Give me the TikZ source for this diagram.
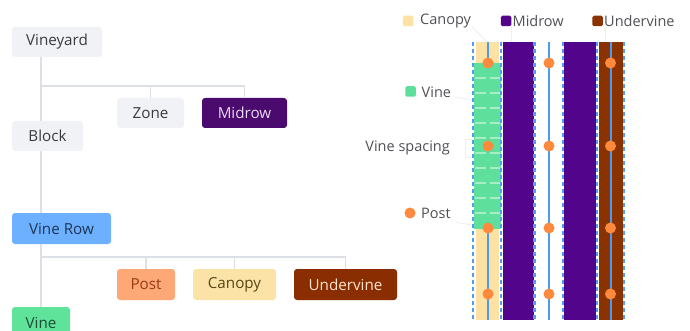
\documentclass[tikz,border=0pt]{standalone}
\usepackage{fontspec}
\setmainfont{Open Sans}
\definecolor{gbg}{HTML}{F1F2F6}
\definecolor{gtx}{HTML}{3A3B40}
\definecolor{conn}{HTML}{DCDFE6}
\definecolor{midbg}{HTML}{4A0A6E}
\definecolor{midtx}{HTML}{E8DAF2}
\definecolor{rowbg}{HTML}{6CB0FF}
\definecolor{rowtx}{HTML}{1E3656}
\definecolor{postbg}{HTML}{FFA877}
\definecolor{posttx}{HTML}{9A3C12}
\definecolor{canbg}{HTML}{FBE3A8}
\definecolor{cantx}{HTML}{5A4514}
\definecolor{undbg}{HTML}{8A2E02}
\definecolor{undtx}{HTML}{FFE3CC}
\definecolor{vinebg}{HTML}{5FE39B}
\definecolor{vinetx}{HTML}{1E4D33}
\definecolor{canopyc}{HTML}{FDE2A3}
\definecolor{midrowc}{HTML}{52048A}
\definecolor{underc}{HTML}{8B3300}
\definecolor{vinec}{HTML}{5EDF9C}
\definecolor{vinedash}{HTML}{A9EDC4}
\definecolor{bluec}{HTML}{4D9BF2}
\definecolor{bluedash}{HTML}{4F9DF5}
\definecolor{postc}{HTML}{FF8A3D}
\definecolor{legtx}{HTML}{505156}
\definecolor{leader}{HTML}{EEEFF1}
\begin{document}
\begin{tikzpicture}[x=1pt,y=-1pt,
  box/.style={rounded corners=3pt, minimum height=30pt, inner sep=0pt, font=\fontsize{15.2}{17}\selectfont},
  graybox/.style={box, fill=gbg, text=gtx},
  cn/.style={draw=conn, line width=1.6pt},
  leg/.style={font=\fontsize{14.5}{16}\selectfont, text=legtx, inner sep=0pt},
  bdash/.style={draw=bluedash, line width=2.4pt, dash pattern=on 4pt off 3pt},
  bline/.style={draw=bluec, line width=2pt},
  postdot/.style={circle, fill=postc, minimum size=11pt, inner sep=0pt},
  lead/.style={draw=leader, line width=0.8pt}
]
\useasboundingbox (0,0) rectangle (690,331);
\fill[white] (0,0) rectangle (690,331);

% ---- tree ----
\coordinate (tx) at (41,0);
\coordinate (b1) at (0,86);
\coordinate (b2) at (0,257);

\node[graybox, minimum width=90pt] (vineyard) at (57,42) {Vineyard};
\node[graybox, minimum width=67pt] (zone) at (150.5,113) {Zone};
\node[box, fill=midbg, text=midtx, minimum width=85pt] (midrow) at (244.5,113) {Midrow};
\node[graybox, minimum width=71pt] (block) at (47.5,136) {Block};
\node[box, fill=rowbg, text=rowtx, minimum width=99pt, minimum height=31pt] (vinerow) at (61.5,228.5) {Vine Row};
\node[box, fill=postbg, text=posttx, minimum width=58pt, minimum height=31pt] (post) at (146,284.5) {Post};
\node[box, fill=canbg, text=cantx, minimum width=83pt, minimum height=31pt] (canopy) at (234.5,284.5) {Canopy};
\node[box, fill=undbg, text=undtx, minimum width=103pt, minimum height=31pt] (undervine) at (345.5,284.5) {Undervine};
\node[box, fill=vinebg, text=vinetx, minimum width=58pt, minimum height=31pt] (vine) at (41,322.5) {Vine};

\draw[cn] (vineyard.south -| tx) -- (block.north -| tx);
\draw[cn] (tx |- b1) -- (midrow.north |- b1) -- (midrow.north);
\draw[cn] (zone.north |- b1) -- (zone.north);
\draw[cn] (block.south -| tx) -- (vinerow.north -| tx);
\draw[cn] (vinerow.south -| tx) -- (vine.north -| tx);
\draw[cn] (tx |- b2) -- (undervine.north |- b2) -- (undervine.north);
\draw[cn] (post.north |- b2) -- (post.north);
\draw[cn] (canopy.north |- b2) -- (canopy.north);

% ---- right panel ----
% leaders
\draw[lead] (472,27) -- (487,42);
\draw[lead] (511,27) -- (511,42);
\draw[lead] (605,27) -- (605,42);
\draw[lead] (455,97) -- (473,100);
\draw[lead] (455,222) -- (482,227);
\draw[draw=leader, line width=0.6pt] (472,139) -- (465,139) -- (465,157) -- (472,157);

% canopy strip
\fill[canopyc] (476,42) rectangle (499,320);
\draw[bline] (488,42) -- (488,320);
% vine block
\fill[vinec] (474,63) rectangle (500.5,229);
\foreach \yy in {78,93,...,213}
  \draw[draw=vinedash, line width=1.2pt, dash pattern=on 11pt off 4pt] (474.5,\yy) -- (500,\yy);
% midrows
\fill[midrowc] (502.5,42) rectangle (533.5,320);
\fill[midrowc] (564,42) rectangle (595.5,320);
% undervine
\fill[underc] (598.5,42) rectangle (622.5,320);
\draw[bline] (610.5,42) -- (610.5,320);
% middle line
\draw[bline] (549,42) -- (549,320);
% dashed boundaries
\foreach \xx in {473,501,534.5,563,597,624}
  \draw[bdash] (\xx,42) -- (\xx,320);
% posts
\foreach \xx/\nm in {488/a,549/b,610.5/c}
  \foreach \yy/\mm in {63/1,146/2,228/3,294/4}
    \node[postdot] (p\nm\mm) at (\xx,\yy) {};

% legend
\node[rounded corners=1.5pt, fill=canopyc, minimum size=10.5pt, inner sep=0pt] (lcan) at (408,21) {};
\node[leg, anchor=west] (lcant) at (420,21) {Canopy};
\node[rounded corners=1.5pt, fill=midrowc, minimum size=10.5pt, inner sep=0pt] (lmid) at (506,21) {};
\node[leg, anchor=west] (lmidt) at (512.5,21) {Midrow};
\node[rounded corners=1.5pt, fill=underc, minimum size=10.5pt, inner sep=0pt] (lund) at (597.5,21) {};
\node[leg, anchor=west] (lundt) at (604,21) {Undervine};
\node[rounded corners=1.5pt, fill=vinec, minimum size=10.5pt, inner sep=0pt] (lvine) at (410.5,91.5) {};
\node[leg, anchor=west] (lvinet) at (421.5,92) {Vine};
\node[leg, anchor=east] (lspace) at (450,147.5) {Vine spacing};
\node[postdot] (lpost) at (410,213) {};
\node[leg, anchor=west] (lpostt) at (421,213.5) {Post};
\end{tikzpicture}
\end{document}
